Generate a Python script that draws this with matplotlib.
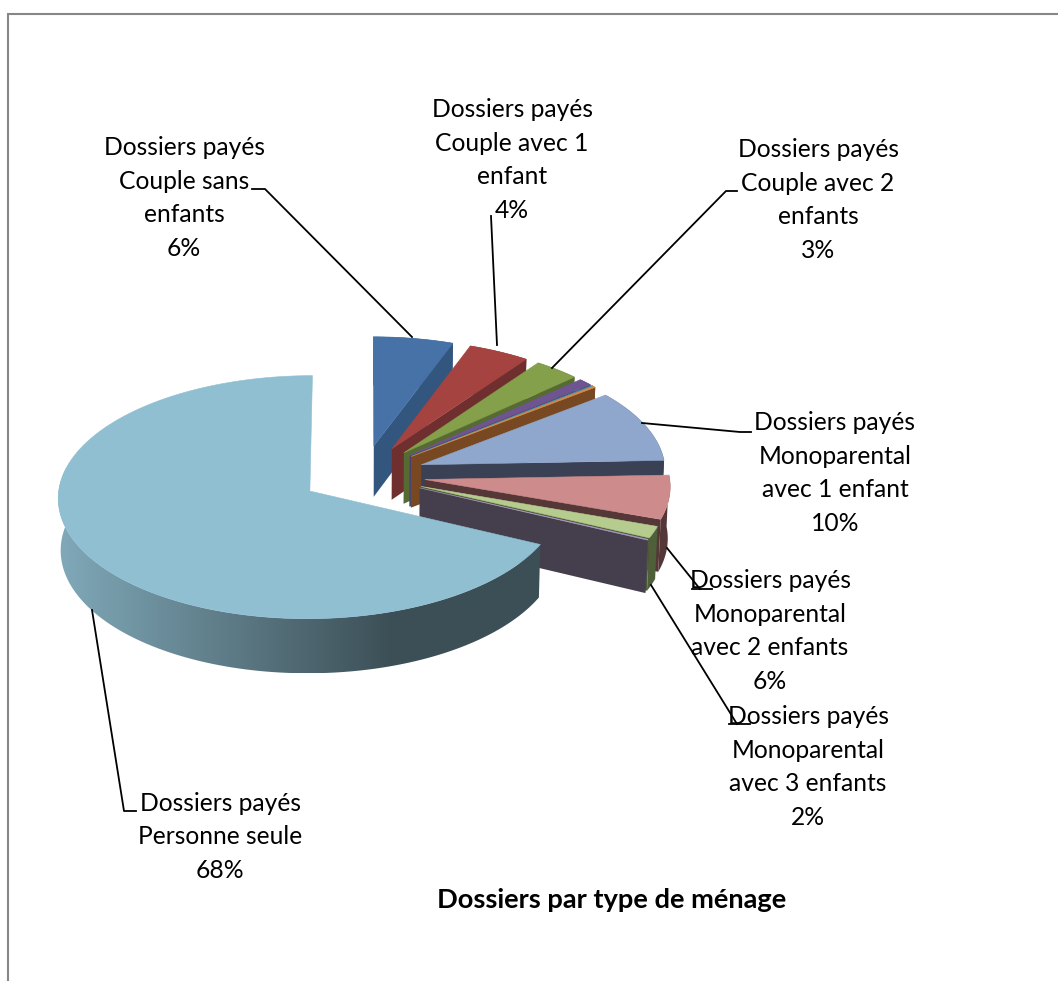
import numpy as np
import matplotlib
matplotlib.use("Agg")
import matplotlib.pyplot as plt
from matplotlib.colors import LinearSegmentedColormap
from matplotlib.patches import Polygon

# parts of the pie, clockwise from 12 o'clock (percent)
labels = ["Couple sans enfants", "Couple avec 1 enfant", "Couple avec 2 enfants",
          "Couple avec 3 enfants", "Couple avec 4 enfants", "Couple avec 5 enfants",
          "Monoparental avec 1 enfant", "Monoparental avec 2 enfants",
          "Monoparental avec 3 enfants", "Monoparental avec 4 enfants", "Personne seule"]
values = [5.6, 4.3, 3.2, 1.0, 0.1, 0.2, 10.0, 6.0, 1.6, 0.1, 67.9]

top_colors = ["#4672a7", "#a54340", "#85a04a", "#6f5492", "#3d96ad", "#d98a45",
              "#8fa6cd", "#cd8c8b", "#b5cc8e", "#a996c2", "#90bfd2"]
side_colors = ["#33567f", "#6e2f2e", "#566a33", "#4f3d6b", "#2a6a7a", "#774821",
               "#3a4154", "#553737", "#4f5f3a", "#453f4d", "#3c4f56"]

plt.rcParams["font.family"] = ["Lato", "DejaVu Sans"]

# projection of the tilted pie
cx, cy = 363, 475
rx, ry = 249.5, 119.6
persp = 0.05
height = 51.5
explode = 0.25
small_radius = 0.98  # the pulled out slices are a bit smaller


def project(u, v, z=0.0):
    u = np.asarray(u, dtype=float)
    v = np.asarray(v, dtype=float)
    s = 1 / (1 + persp * v)
    x = cx + rx * u * s
    x = cx + (x - cx) * (1 - 0.008 * z)
    y = cy - ry * v * s + height * s * z
    return x, y


def pts(u, v, z=0.0):
    x, y = project(u, v, z)
    return np.column_stack([np.atleast_1d(x), np.atleast_1d(y)])


fig = plt.figure(figsize=(10.58, 9.81), dpi=100)
ax = fig.add_axes([0, 0, 1, 1])

# outer border, only partly on the page
ax.plot([8, 8, 1058], [981, 13.5, 13.5], color="#878787", lw=1.5, solid_joinstyle="miter")

edges = np.cumsum([0] + values) / sum(values) * 2 * np.pi
last = len(values) - 1

for i in range(len(values)):
    a0, a1 = edges[i], edges[i + 1]
    mid = (a0 + a1) / 2
    ou, ov = explode * np.sin(mid), explode * np.cos(mid)
    r = 1.0 if i == last else small_radius
    t = np.linspace(a0, a1, max(8, int((a1 - a0) * 80)))
    au = ou + r * np.sin(t)
    av = ov + r * np.cos(t)
    zorder = 2 + i

    if i < last:
        # cut face on the clockwise end, then the rim
        rim = np.vstack([pts(au, av), pts(au, av, 1)[::-1]])
        face = np.vstack([pts(ou, ov), pts(au[-1], av[-1]), pts(au[-1], av[-1], 1), pts(ou, ov, 1)])
        ax.add_patch(Polygon(face, closed=True, fc=side_colors[i], ec="none", zorder=zorder))
        ax.add_patch(Polygon(rim, closed=True, fc=side_colors[i], ec="none", zorder=zorder))
    else:
        # big slice: only the front of the rim shows, shaded from left to right
        front = np.cos(t) < 0.2
        rim = np.vstack([pts(au[front], av[front]), pts(au[front], av[front], 1)[::-1]])
        x0, x1 = rim[:, 0].min(), rim[:, 0].max()
        stop = (392 - x0) / (x1 - x0)
        shade = LinearSegmentedColormap.from_list(
            "rim", [(0, "#80a9b9"), (stop, side_colors[i]), (1, side_colors[i])])
        ramp = np.linspace(0, 1, 512).reshape(1, -1)
        img = ax.imshow(ramp, cmap=shade, aspect="auto", zorder=zorder, interpolation="bilinear",
                        extent=[x0, x1, rim[:, 1].max(), rim[:, 1].min()])
        clip = Polygon(rim, closed=True, transform=ax.transData)
        img.set_clip_path(clip)

    # top of the slice
    top = np.vstack([pts(ou, ov), pts(au, av)])
    ax.add_patch(Polygon(top, closed=True, fc=top_colors[i], ec=top_colors[i], lw=0.4, zorder=zorder + 0.5))

ax.set_xlim(0, 1058)
ax.set_ylim(981, 0)
ax.axis("off")

# leader lines
leaders = [
    ([412, 265, 252], [337, 189, 189]),
    ([497, 491], [345, 216]),
    ([552, 726, 737], [368, 191, 191]),
    ([642, 740, 751], [423, 432, 432]),
    ([667, 700], [548, 589]),
    ([692, 712], [589, 589]),
    ([651, 737], [585, 724]),
    ([729, 750], [724, 724]),
    ([92, 124, 136], [610, 811, 811]),
]
for lx, ly in leaders:
    ax.plot(lx, ly, color="black", lw=1.3, zorder=30)


# data labels: name and rounded share
def share(i):
    return f"{round(values[i])}%"


label_style = dict(ha="center", va="center", fontsize=17.75, color="black", linespacing=1.55, zorder=40)
ax.text(184, 198, "Dossiers payés\nCouple sans\nenfants\n" + share(0), **label_style)
ax.text(512, 160, "Dossiers payés\nCouple avec 1\nenfant\n" + share(1), **label_style)
ax.text(818, 200, "Dossiers payés\nCouple avec 2\nenfants\n" + share(2), **label_style)
ax.text(835, 473, "Dossiers payés\nMonoparental\navec 1 enfant\n" + share(6), **label_style)
ax.text(770, 631, "Dossiers payés\nMonoparental\navec 2 enfants\n" + share(7), **label_style)
ax.text(808, 767, "Dossiers payés\nMonoparental\navec 3 enfants\n" + share(8), **label_style)
ax.text(220, 837, "Dossiers payés\nPersonne seule\n" + share(10), **label_style)

ax.text(612, 900, "Dossiers par type de ménage", ha="center", va="center",
        fontsize=19.6, fontweight="bold", color="black", zorder=40)

fig.savefig("out.png", dpi=100)
